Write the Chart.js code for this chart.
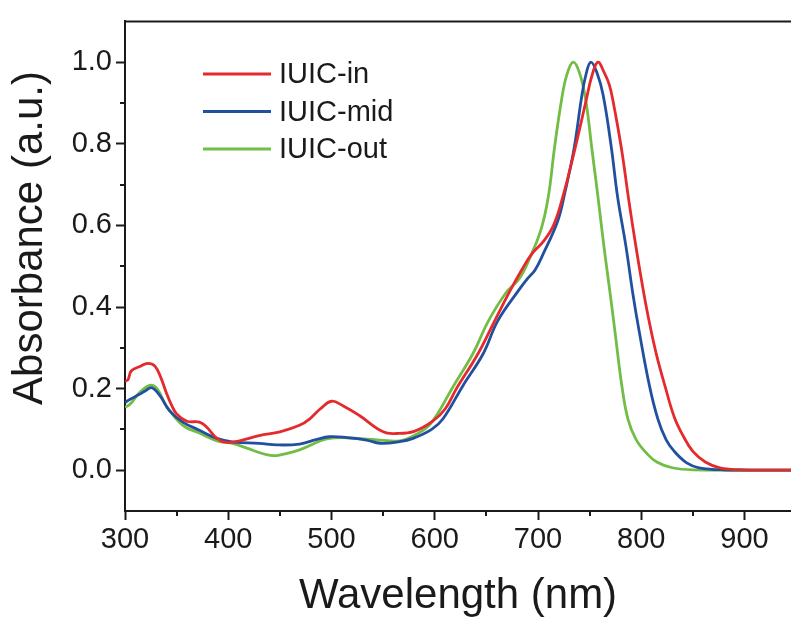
<!DOCTYPE html>
<html>
<head>
<meta charset="utf-8">
<script src="https://cdn.jsdelivr.net/npm/chart.js@4.4.1/dist/chart.umd.min.js"></script>
<style>
  html, body { margin: 0; padding: 0; background: #fff; }
</style>
</head>
<body>
<canvas id="myChart" width="791" height="620"></canvas>
<script>
// Data (wavelength in nm, normalised absorbance)
const seriesNames = ["IUIC-in", "IUIC-mid", "IUIC-out"];
const seriesColors = ["#e42a2c", "#2150a0", "#72bd45"];

const wlIn = [300, 303, 306, 315, 322, 329, 335, 340, 345, 350, 360, 372, 379, 389, 398, 411, 430, 450, 469, 479, 489, 500, 511, 527, 550, 563, 580, 598, 610, 621, 642, 658, 673, 684, 694, 705, 715, 724, 736, 747, 752, 758, 764, 769, 773, 781, 788, 795, 802, 808, 815, 823, 832, 841, 850, 862, 876, 900, 945];
const absIn = [0.218, 0.222, 0.243, 0.255, 0.262, 0.255, 0.225, 0.19, 0.16, 0.138, 0.12, 0.118, 0.106, 0.078, 0.068, 0.072, 0.085, 0.094, 0.11, 0.126, 0.15, 0.169, 0.158, 0.134, 0.094, 0.09, 0.095, 0.12, 0.15, 0.2, 0.286, 0.366, 0.44, 0.49, 0.53, 0.56, 0.6, 0.67, 0.79, 0.911, 0.965, 1.0, 0.975, 0.945, 0.9, 0.785, 0.66, 0.545, 0.44, 0.36, 0.28, 0.206, 0.13, 0.082, 0.046, 0.02, 0.006, 0.001, 0];

const wlMid = [300, 305, 314, 320, 326, 334, 343, 356, 372, 389, 405, 430, 447, 469, 485, 498, 515, 534, 547, 566, 579, 597, 608, 627, 647, 661, 681, 690, 697, 705, 719, 726, 735, 742, 746, 751, 757, 763, 771, 777, 785, 792, 798, 808, 816, 824, 832, 844, 856, 880, 945];
const absMid = [0.166, 0.174, 0.186, 0.195, 0.202, 0.182, 0.146, 0.118, 0.098, 0.078, 0.069, 0.066, 0.062, 0.064, 0.075, 0.082, 0.08, 0.074, 0.066, 0.07, 0.078, 0.1, 0.126, 0.206, 0.286, 0.366, 0.44, 0.47, 0.49, 0.53, 0.61, 0.68, 0.79, 0.911, 0.965, 1.0, 0.975, 0.92, 0.791, 0.671, 0.551, 0.43, 0.34, 0.206, 0.126, 0.075, 0.046, 0.018, 0.006, 0.001, 0];

const wlOut = [300, 305, 314, 324, 331, 340, 356, 373, 389, 405, 418, 437, 447, 469, 498, 534, 566, 580, 596, 618, 637, 652, 669, 682, 692, 703, 710, 716, 723, 728, 734, 740, 746, 752, 758, 764, 770, 775, 781, 787, 795, 805, 815, 830, 850, 945];
const absOut = [0.154, 0.162, 0.19, 0.208, 0.2, 0.158, 0.11, 0.09, 0.072, 0.065, 0.054, 0.038, 0.036, 0.05, 0.078, 0.076, 0.072, 0.085, 0.114, 0.206, 0.286, 0.366, 0.435, 0.47, 0.52, 0.591, 0.671, 0.791, 0.911, 0.97, 1.0, 0.975, 0.911, 0.791, 0.671, 0.545, 0.43, 0.33, 0.21, 0.126, 0.075, 0.042, 0.02, 0.006, 0.001, 0];

const xTicks = [300, 350, 400, 450, 500, 550, 600, 650, 700, 750, 800, 850, 900];
const yTicks = [-0.1, 0, 0.1, 0.2, 0.3, 0.4, 0.5, 0.6, 0.7, 0.8, 0.9, 1.0, 1.1];
const xMin = 300, xMax = 945, yMin = -0.1, yMax = 1.1;

const FONT = "'Liberation Sans', Arial, sans-serif";
const INK = "#1a1a1a";

function toPoints(xs, ys) {
  return xs.map((x, i) => ({ x: x, y: ys[i] }));
}

function isMajorX(v) {
  return v % 100 === 0;
}
function isMajorY(v) {
  const k = Math.round(v * 10);
  return k >= 0 && k <= 10 && k % 2 === 0;
}

// minor ticks, top frame line and the rotated y title
const framePlugin = {
  id: "frame",
  afterDraw(chart) {
    const { ctx, chartArea, scales } = chart;
    ctx.save();
    ctx.strokeStyle = INK;
    ctx.lineWidth = 2;
    ctx.beginPath();
    ctx.moveTo(chartArea.left - 1, chartArea.top);
    ctx.lineTo(chartArea.right, chartArea.top);
    ctx.stroke();

    ctx.beginPath();
    xTicks.forEach((v) => {
      if (!isMajorX(v)) {
        const px = Math.round(scales.x.getPixelForValue(v));
        ctx.moveTo(px, chartArea.bottom);
        ctx.lineTo(px, chartArea.bottom + 5);
      }
    });
    yTicks.forEach((v) => {
      if (!isMajorY(v) && v > 0 && v < 1.05) {
        const py = Math.round(scales.y.getPixelForValue(v));
        ctx.moveTo(chartArea.left, py);
        ctx.lineTo(chartArea.left - 5, py);
      }
    });
    ctx.stroke();

    // y axis title
    ctx.translate(30, 238);
    ctx.rotate(-Math.PI / 2);
    ctx.font = "42px " + FONT;
    ctx.fillStyle = INK;
    ctx.textAlign = "center";
    ctx.textBaseline = "middle";
    ctx.fillText("Absorbance (a.u.)", 0, 0);
    ctx.restore();
  },
};

// legend inside the plot, top left
const legendPlugin = {
  id: "innerLegend",
  afterDraw(chart) {
    const { ctx } = chart;
    ctx.save();
    ctx.font = "29px " + FONT;
    ctx.textBaseline = "middle";
    chart.data.datasets.forEach((ds, i) => {
      const y = 74 + i * 37.5;
      ctx.strokeStyle = ds.borderColor;
      ctx.lineWidth = 3;
      ctx.beginPath();
      ctx.moveTo(203, y);
      ctx.lineTo(271, y);
      ctx.stroke();
      ctx.fillStyle = INK;
      ctx.fillText(ds.label, 279, y + 1);
    });
    ctx.restore();
  },
};

const ctx = document.getElementById("myChart");

const chartID = new Chart(ctx, {
  type: "line",
  data: {
    datasets: [
      { label: seriesNames[0], data: toPoints(wlIn, absIn), borderColor: seriesColors[0] },
      { label: seriesNames[1], data: toPoints(wlMid, absMid), borderColor: seriesColors[1] },
      { label: seriesNames[2], data: toPoints(wlOut, absOut), borderColor: seriesColors[2] },
    ],
  },
  options: {
    responsive: false,
    animation: false,
    layout: { padding: { top: 12, left: 0, right: 0, bottom: 0 } },
    elements: {
      point: { radius: 0 },
      line: { borderWidth: 2.8, tension: 0.4, fill: false, capBezierPoints: true },
    },
    plugins: {
      legend: { display: false },
      tooltip: { enabled: false },
    },
    scales: {
      x: {
        type: "linear",
        min: xMin,
        max: xMax,
        afterBuildTicks: (scale) => { scale.ticks = xTicks.map((v) => ({ value: v })); },
        afterFit: (scale) => { scale.height = 109; },
        border: { display: true, color: INK, width: 2 },
        grid: {
          drawOnChartArea: false,
          drawTicks: true,
          tickLength: 9,
          tickWidth: 2,
          tickColor: (c) => (c.tick && isMajorX(c.tick.value) ? INK : "rgba(0,0,0,0)"),
        },
        ticks: {
          autoSkip: false,
          maxRotation: 0,
          padding: 3,
          color: INK,
          font: { family: FONT, size: 29 },
          callback: (v) => (isMajorX(v) ? String(v) : ""),
        },
        title: {
          display: true,
          text: "Wavelength (nm)",
          color: INK,
          font: { family: FONT, size: 42, lineHeight: 1.1 },
          padding: { top: 0, bottom: 0 },
        },
      },
      y: {
        min: yMin,
        max: yMax,
        afterBuildTicks: (scale) => { scale.ticks = yTicks.map((v) => ({ value: v })); },
        afterFit: (scale) => { scale.width = 125; },
        border: { display: true, color: INK, width: 2 },
        grid: {
          drawOnChartArea: false,
          drawTicks: true,
          tickLength: 9,
          tickWidth: 2,
          tickColor: (c) => (c.tick && isMajorY(c.tick.value) ? INK : "rgba(0,0,0,0)"),
        },
        ticks: {
          autoSkip: false,
          padding: 4,
          color: INK,
          font: { family: FONT, size: 29 },
          callback: (v) => (isMajorY(v) ? (Math.round(v * 10) / 10).toFixed(1) : ""),
        },
      },
    },
  },
  plugins: [framePlugin, legendPlugin],
});
</script>
</body>
</html>
